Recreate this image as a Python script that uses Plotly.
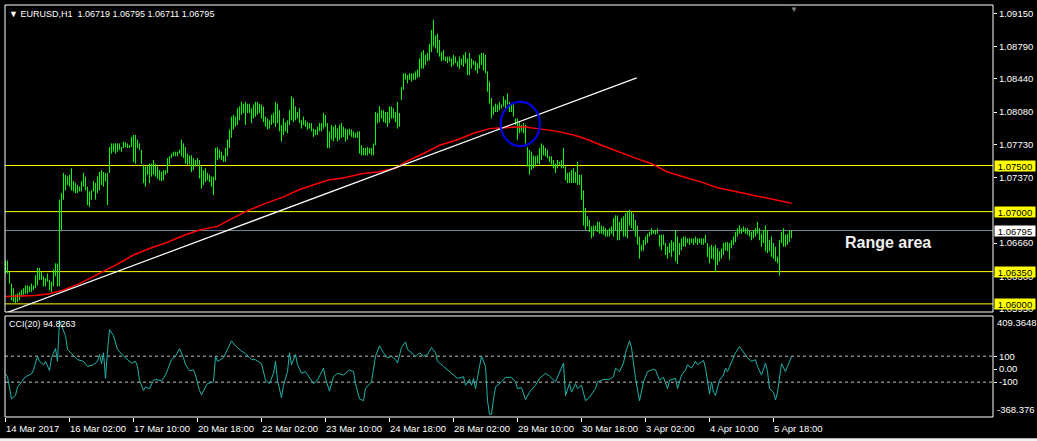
import plotly.graph_objects as go

# ---------------- data (EURUSD H1, one entry per bar) ----------------
bar_high = [
    1.0647, 1.0647, 1.0635, 1.0622, 1.0617, 1.0610, 1.0611, 1.0613, 1.0615, 1.0617,
    1.0620, 1.0620, 1.0619, 1.0622, 1.0620, 1.0631, 1.0639, 1.0639, 1.0635, 1.0630,
    1.0628, 1.0633, 1.0626, 1.0624, 1.0637, 1.0644, 1.0644, 1.0713, 1.0720, 1.0742,
    1.0740, 1.0738, 1.0740, 1.0747, 1.0733, 1.0731, 1.0729, 1.0727, 1.0733, 1.0742,
    1.0738, 1.0727, 1.0722, 1.0723, 1.0733, 1.0731, 1.0738, 1.0743, 1.0745, 1.0743,
    1.0742, 1.0742, 1.0770, 1.0774, 1.0774, 1.0774, 1.0774, 1.0774, 1.0770, 1.0776,
    1.0775, 1.0774, 1.0772, 1.0781, 1.0783, 1.0783, 1.0778, 1.0774, 1.0767, 1.0751,
    1.0749, 1.0749, 1.0752, 1.0752, 1.0756, 1.0752, 1.0749, 1.0745, 1.0743, 1.0745,
    1.0745, 1.0758, 1.0760, 1.0763, 1.0765, 1.0765, 1.0765, 1.0767, 1.0778, 1.0774,
    1.0770, 1.0763, 1.0761, 1.0761, 1.0758, 1.0756, 1.0758, 1.0756,
    1.0749, 1.0745, 1.0747, 1.0742, 1.0740, 1.0738, 1.0738, 1.0769, 1.0770, 1.0767,
    1.0765, 1.0761, 1.0769, 1.0778, 1.0789, 1.0803, 1.0805, 1.0803, 1.0812, 1.0814,
    1.0819, 1.0817, 1.0819, 1.0817, 1.0817, 1.0812, 1.0816, 1.0819, 1.0819, 1.0817,
    1.0816, 1.0814, 1.0803, 1.0801, 1.0799, 1.0805, 1.0807, 1.0819, 1.0817, 1.0810,
    1.0794, 1.0801, 1.0797, 1.0799, 1.0810, 1.0825, 1.0823, 1.0814, 1.0808, 1.0812,
    1.0799, 1.0803, 1.0799, 1.0797, 1.0796, 1.0796, 1.0790, 1.0789, 1.0792, 1.0796,
    1.0796, 1.0807, 1.0805, 1.0796, 1.0787, 1.0794, 1.0792, 1.0794, 1.0790, 1.0794,
    1.0796, 1.0792, 1.0790, 1.0789, 1.0790, 1.0789, 1.0787, 1.0785, 1.0787, 1.0787,
    1.0772, 1.0769, 1.0769, 1.0770, 1.0769, 1.0769, 1.0774, 1.0808, 1.0807, 1.0814,
    1.0810, 1.0810, 1.0808, 1.0808, 1.0814, 1.0814, 1.0812,
    1.0808, 1.0819, 1.0807, 1.0835, 1.0850, 1.0850, 1.0848, 1.0850, 1.0850, 1.0850,
    1.0852, 1.0854, 1.0866, 1.0873, 1.0875, 1.0870, 1.0872, 1.0882, 1.0897, 1.0908,
    1.0891, 1.0893, 1.0886, 1.0873, 1.0875, 1.0868, 1.0868, 1.0868, 1.0866, 1.0870,
    1.0868, 1.0863, 1.0868, 1.0866, 1.0870, 1.0873, 1.0866, 1.0872, 1.0866, 1.0864,
    1.0863, 1.0861, 1.0870, 1.0872, 1.0872, 1.0870, 1.0852, 1.0841, 1.0823, 1.0814,
    1.0817, 1.0816, 1.0819, 1.0816, 1.0825, 1.0821, 1.0828, 1.0819, 1.0817, 1.0816,
    1.0801, 1.0801, 1.0797, 1.0794, 1.0796, 1.0794, 1.0770, 1.0767, 1.0765, 1.0761,
    1.0760, 1.0761, 1.0769, 1.0774, 1.0772, 1.0769, 1.0767, 1.0760, 1.0760, 1.0756,
    1.0752, 1.0756, 1.0754, 1.0756, 1.0769, 1.0749, 1.0742, 1.0743, 1.0745, 1.0747,
    1.0743, 1.0754, 1.0740, 1.0740, 1.0723,
    1.0704, 1.0695, 1.0691, 1.0684, 1.0685, 1.0685, 1.0689, 1.0689, 1.0685, 1.0684,
    1.0682, 1.0680, 1.0682, 1.0684, 1.0693, 1.0696, 1.0696, 1.0689, 1.0693, 1.0695,
    1.0698, 1.0700, 1.0702, 1.0700, 1.0698, 1.0691, 1.0685, 1.0673, 1.0664, 1.0669,
    1.0673, 1.0676, 1.0678, 1.0682, 1.0680, 1.0680, 1.0682, 1.0675, 1.0675, 1.0675,
    1.0666, 1.0662, 1.0666, 1.0669, 1.0667, 1.0680, 1.0673, 1.0666, 1.0671, 1.0673,
    1.0673, 1.0671, 1.0671, 1.0671, 1.0671, 1.0673, 1.0671, 1.0671, 1.0671, 1.0671,
    1.0675, 1.0666, 1.0662, 1.0664, 1.0662, 1.0664, 1.0660, 1.0657, 1.0660, 1.0666,
    1.0667, 1.0667, 1.0666, 1.0669, 1.0673, 1.0678, 1.0682, 1.0685, 1.0682, 1.0684,
    1.0682, 1.0682, 1.0680, 1.0678, 1.0680, 1.0682, 1.0689, 1.0682, 1.0676, 1.0680,
    1.0685, 1.0680, 1.0669, 1.0673, 1.0666, 1.0662, 1.0651, 1.0669, 1.0678, 1.0682,
    1.0675, 1.0676, 1.0680, 1.06795,
]
bar_low = [
    1.0633, 1.0633, 1.0622, 1.0604, 1.0602, 1.0601, 1.0602, 1.0604, 1.0608, 1.0610,
    1.0611, 1.0611, 1.0613, 1.0613, 1.0615, 1.0617, 1.0620, 1.0626, 1.0626, 1.0619,
    1.0619, 1.0624, 1.0615, 1.0613, 1.0619, 1.0630, 1.0619, 1.0619, 1.0680, 1.0713,
    1.0723, 1.0729, 1.0727, 1.0723, 1.0722, 1.0720, 1.0720, 1.0722, 1.0722, 1.0727,
    1.0723, 1.0707, 1.0705, 1.0713, 1.0722, 1.0713, 1.0720, 1.0723, 1.0729, 1.0727,
    1.0733, 1.0707, 1.0742, 1.0763, 1.0765, 1.0763, 1.0765, 1.0767, 1.0765, 1.0769,
    1.0770, 1.0769, 1.0769, 1.0770, 1.0754, 1.0752, 1.0769, 1.0767, 1.0752, 1.0731,
    1.0727, 1.0740, 1.0731, 1.0738, 1.0740, 1.0738, 1.0736, 1.0734, 1.0733, 1.0734,
    1.0740, 1.0742, 1.0751, 1.0758, 1.0760, 1.0760, 1.0760, 1.0763, 1.0760, 1.0758,
    1.0752, 1.0751, 1.0751, 1.0743, 1.0745, 1.0749, 1.0751, 1.0736,
    1.0725, 1.0729, 1.0732, 1.0734, 1.0732, 1.0727, 1.0718, 1.0734, 1.0756, 1.0758,
    1.0756, 1.0754, 1.0754, 1.0760, 1.0769, 1.0780, 1.0789, 1.0792, 1.0794, 1.0799,
    1.0805, 1.0807, 1.0794, 1.0807, 1.0807, 1.0796, 1.0801, 1.0803, 1.0805, 1.0807,
    1.0801, 1.0797, 1.0792, 1.0789, 1.0790, 1.0794, 1.0796, 1.0792, 1.0796, 1.0787,
    1.0776, 1.0783, 1.0787, 1.0785, 1.0794, 1.0799, 1.0797, 1.0799, 1.0801, 1.0796,
    1.0790, 1.0794, 1.0792, 1.0789, 1.0790, 1.0787, 1.0781, 1.0783, 1.0783, 1.0787,
    1.0787, 1.0790, 1.0792, 1.0769, 1.0769, 1.0778, 1.0776, 1.0780, 1.0776, 1.0778,
    1.0780, 1.0781, 1.0776, 1.0778, 1.0783, 1.0781, 1.0780, 1.0780, 1.0780, 1.0763,
    1.0761, 1.0761, 1.0761, 1.0761, 1.0763, 1.0761, 1.0761, 1.0772, 1.0796, 1.0797,
    1.0801, 1.0797, 1.0796, 1.0792, 1.0796, 1.0801, 1.0801,
    1.0797, 1.0790, 1.0792, 1.0821, 1.0832, 1.0843, 1.0839, 1.0843, 1.0841, 1.0843,
    1.0843, 1.0845, 1.0846, 1.0855, 1.0855, 1.0859, 1.0863, 1.0864, 1.0873, 1.0879,
    1.0877, 1.0872, 1.0868, 1.0863, 1.0864, 1.0863, 1.0861, 1.0863, 1.0857, 1.0859,
    1.0861, 1.0857, 1.0855, 1.0859, 1.0857, 1.0861, 1.0848, 1.0848, 1.0855, 1.0859,
    1.0853, 1.0850, 1.0855, 1.0859, 1.0853, 1.0850, 1.0830, 1.0817, 1.0801, 1.0805,
    1.0808, 1.0808, 1.0810, 1.0812, 1.0814, 1.0812, 1.0816, 1.0808, 1.0808, 1.0803,
    1.0794, 1.0778, 1.0785, 1.0787, 1.0785, 1.0774, 1.0749, 1.0740, 1.0745, 1.0747,
    1.0749, 1.0752, 1.0751, 1.0756, 1.0761, 1.0760, 1.0758, 1.0754, 1.0751, 1.0747,
    1.0742, 1.0747, 1.0751, 1.0747, 1.0747, 1.0734, 1.0731, 1.0731, 1.0731, 1.0731,
    1.0731, 1.0729, 1.0729, 1.0713, 1.0685,
    1.0680, 1.0684, 1.0678, 1.0671, 1.0673, 1.0680, 1.0678, 1.0676, 1.0676, 1.0675,
    1.0673, 1.0673, 1.0673, 1.0676, 1.0673, 1.0680, 1.0669, 1.0669, 1.0680, 1.0673,
    1.0673, 1.0671, 1.0685, 1.0682, 1.0680, 1.0673, 1.0664, 1.0649, 1.0657, 1.0658,
    1.0664, 1.0666, 1.0673, 1.0675, 1.0676, 1.0675, 1.0676, 1.0662, 1.0658, 1.0664,
    1.0653, 1.0649, 1.0655, 1.0651, 1.0657, 1.0646, 1.0643, 1.0653, 1.0658, 1.0662,
    1.0662, 1.0666, 1.0664, 1.0666, 1.0664, 1.0666, 1.0664, 1.0666, 1.0664, 1.0664,
    1.0666, 1.0651, 1.0644, 1.0649, 1.0648, 1.0635, 1.0642, 1.0646, 1.0649, 1.0653,
    1.0658, 1.0657, 1.0648, 1.0660, 1.0664, 1.0667, 1.0673, 1.0676, 1.0676, 1.0678,
    1.0676, 1.0675, 1.0673, 1.0669, 1.0671, 1.0673, 1.0676, 1.0669, 1.0662, 1.0666,
    1.0657, 1.0655, 1.0657, 1.0651, 1.0649, 1.0646, 1.0644, 1.0631, 1.0666, 1.0662,
    1.0662, 1.0664, 1.0667, 1.06711,
]

# red moving average (bar index, price)
ma_bar = [0, 15, 22, 29, 37, 47, 55, 64, 72, 80, 90, 97, 106, 112, 120, 130, 139, 147,
          153, 161, 170, 178, 186, 195, 200, 209, 217, 226, 234, 242, 249, 259, 266,
          276, 284, 290, 298, 306, 315, 323, 331, 340, 348, 356, 365, 373, 381, 390, 393]
ma_val = [1.0608, 1.0609, 1.0611, 1.0615, 1.0622, 1.0633, 1.0642, 1.0653, 1.0660, 1.0666,
          1.0675, 1.0680, 1.0684, 1.0691, 1.0700, 1.0709, 1.0716, 1.0724, 1.0728, 1.0734,
          1.0737, 1.0741, 1.0743, 1.0747, 1.0754, 1.0763, 1.0772, 1.0778, 1.0785, 1.0790,
          1.0791, 1.0792, 1.0790, 1.0787, 1.0783, 1.0779, 1.0772, 1.0765, 1.0758, 1.0752,
          1.0743, 1.0737, 1.0732, 1.0726, 1.0722, 1.0718, 1.0715, 1.0711, 1.0709]

# CCI(20) (bar index, value)
cci_bar = [0, 1, 3, 5, 6, 8, 10, 13, 14, 16, 17, 19, 20, 22, 23, 25, 26, 27, 28, 30, 31, 34,
           36, 39, 41, 44, 46, 47, 48, 49, 50, 51, 52, 54, 56, 59, 61, 63, 65, 66, 67, 69,
           70, 72, 74, 75, 78, 80, 83, 85, 87, 89, 90, 92, 94, 95, 97, 98, 100, 101, 104,
           105, 106, 109, 113, 115, 118, 120, 123, 125, 128, 130, 132, 134, 135, 136, 138,
           139, 141, 142, 143, 145, 146, 148, 150, 154, 156, 159, 160, 162, 164, 166, 169,
           171, 172, 174, 175, 177, 179, 180, 183, 185, 187, 189, 191, 193, 195, 196, 198,
           200, 201, 204, 205, 207, 209, 211, 213, 215, 216, 219, 221, 224, 226, 229, 230,
           232, 233, 234, 235, 237, 238, 240, 241, 242, 243, 244, 245, 248, 250, 253, 255,
           256, 258, 260, 262, 265, 267, 270, 272, 275, 277, 279, 280, 282, 283, 285, 286,
           288, 290, 292, 295, 296, 299, 302, 304, 305, 307, 309, 310, 312, 313, 315, 317,
           319, 321, 324, 325, 327, 329, 331, 332, 335, 336, 338, 340, 341, 343, 345, 346,
           349, 350, 352, 353, 354, 355, 356, 357, 359, 360, 361, 363, 365, 367, 369, 371,
           373, 375, 376, 378, 380, 381, 382, 384, 385, 386, 388, 390, 391, 393]
cci_val = [-37, -58, -229, -203, -137, -98, -58, -37, -6, 100, 60, 34, 60, -11, 87, 158, 60,
           376, 336, 258, 152, 100, 73, 60, 21, 34, 60, 113, 42, 126, -71, 139, 305, 258,
           152, 100, 73, 47, 60, 21, -85, -164, -137, -150, -85, -79, -90, -45, 73, 100,
           158, 87, 34, -11, -6, -45, -164, -198, -137, -111, -98, 100, 60, 87, 218, 179,
           139, 121, 73, 73, 42, -85, -111, -32, 60, -85, -221, -124, -19, 126, 34, 113,
           34, -32, -19, -111, -85, 8, -71, -169, -58, -32, -45, -19, -6, -19, -111, -229,
           -243, -150, -98, 100, 179, 126, 87, 100, 73, 47, 166, 210, 152, 113, 95, 126,
           100, 113, 166, 126, 60, 21, -6, -45, -71, -58, -124, -79, -124, -71, -150, 21,
           100, 21, -243, -348, -348, -229, -137, -98, -63, -63, -98, -150, -142, -235,
           -177, -124, -71, -32, -53, -98, -32, 47, -203, -111, -177, -111, -150, -124,
           -243, -216, -150, -98, -79, -79, -58, 8, -19, 47, 126, 218, 166, -71, -243, -98,
           -19, 0, -6, -85, -63, -150, -85, -71, -150, -45, -6, 34, 8, 60, 34, 68, 8, -190,
           -98, -177, -203, -150, -85, -45, 8, -19, 60, 126, 174, 126, 87, 60, 73, 21, -45,
           47, -19, -150, -177, -237, -177, 42, -19, 21, 94.8263]

# hand-drawn objects
trend_bar = [0, 315.6]
trend_price = [1.0590, 1.0845]
circle_bar = [247.6, 267.2]
circle_price = [1.0771, 1.0819]
level_prices = [1.0750, 1.0700, 1.0635, 1.0600]
level_labels = ["1.07500", "1.07000", "1.06350", "1.06000"]
bid_price = 1.06795
bid_label = "1.06795"

price_ticks = [1.0915, 1.0879, 1.0844, 1.0808, 1.0773, 1.0737, 1.0666, 1.0630, 1.0595]
price_tick_text = ["1.09150", "1.08790", "1.08440", "1.08080", "1.07730", "1.07370",
                   "1.06660", "1.06300", "1.05950"]
time_ticks = [0, 32, 64, 96, 128, 160, 192, 224, 256, 288, 320, 352, 384]
time_labels = ["14 Mar 2017", "16 Mar 02:00", "17 Mar 10:00", "20 Mar 18:00", "22 Mar 02:00",
               "23 Mar 10:00", "24 Mar 18:00", "28 Mar 02:00", "29 Mar 10:00", "30 Mar 18:00",
               "3 Apr 02:00", "4 Apr 10:00", "5 Apr 18:00"]
cci_ticks = [100, 0, -100]
cci_tick_text = ["100", "0.00", "-100"]
cci_max, cci_min = 409.3648, -368.376

FONT = "Liberation Sans"
FG = "#FFFFFF"

# ---------------- figure ----------------
bx, by = [], []
for i, (h, l) in enumerate(zip(bar_high, bar_low)):
    bx += [i, i, None]
    by += [l, h, None]

fig = go.Figure()
fig.add_trace(go.Scatter(x=bx, y=by, mode="lines", line=dict(color="#00FF00", width=1),
                         xaxis="x", yaxis="y", hoverinfo="skip", showlegend=False))
fig.add_trace(go.Scatter(x=ma_bar, y=ma_val, mode="lines", line=dict(color="#FF0000", width=1.5),
                         xaxis="x", yaxis="y", showlegend=False))
fig.add_trace(go.Scatter(x=trend_bar, y=trend_price, mode="lines",
                         line=dict(color="#FFFFFF", width=1.2),
                         xaxis="x", yaxis="y", showlegend=False))
fig.add_trace(go.Scatter(x=cci_bar, y=cci_val, mode="lines", line=dict(color="#20B2AA", width=1),
                         xaxis="x", yaxis="y2", showlegend=False))

shapes = []
for p in level_prices:
    shapes.append(dict(type="line", xref="x domain", yref="y", x0=0, x1=1, y0=p, y1=p,
                       line=dict(color="#FFFF00", width=1), layer="below"))
shapes.append(dict(type="line", xref="x domain", yref="y", x0=0, x1=1, y0=bid_price, y1=bid_price,
                   line=dict(color="#778899", width=1), layer="below"))
for v in (100, -100):
    shapes.append(dict(type="line", xref="x domain", yref="y2", x0=0, x1=1, y0=v, y1=v,
                       line=dict(color="#C0C0C0", width=1, dash="3px,3px"), layer="below"))
shapes.append(dict(type="circle", xref="x", yref="y", x0=circle_bar[0], x1=circle_bar[1],
                   y0=circle_price[0], y1=circle_price[1], line=dict(color="#0000FF", width=2)))
for ya in ("y", "y2"):
    shapes.append(dict(type="rect", xref="x domain", yref=ya + " domain", x0=0, x1=1, y0=0, y1=1,
                       line=dict(color="#FFFFFF", width=1)))
# light window edge at the bottom of the screenshot
shapes.append(dict(type="rect", xref="paper", yref="paper", x0=-0.01, x1=1.05, y0=-0.06, y1=-0.0515,
                   line=dict(width=0), fillcolor="#F0F0F0"))

small = dict(family=FONT, size=9.5, color=FG)
ann = []
for p, t in zip(level_prices, level_labels):
    ann.append(dict(xref="paper", yref="y", x=1, y=p, xanchor="left", yanchor="middle", xshift=1,
                    text=t, showarrow=False, bgcolor="#FFFF00", width=40, height=10,
                    borderpad=0, font=dict(family=FONT, size=9.5, color="#000000")))
ann.append(dict(xref="paper", yref="y", x=1, y=bid_price, xanchor="left", yanchor="middle", xshift=1,
                text=bid_label, showarrow=False, bgcolor="#FFFFFF", width=40, height=10,
                borderpad=0, font=dict(family=FONT, size=9.5, color="#000000")))
ann.append(dict(xref="paper", yref="y2 domain", x=1, y=1, xanchor="left", yanchor="top", xshift=2,
                yshift=1, text=f"{cci_max:.4f}", showarrow=False, font=small))
ann.append(dict(xref="paper", yref="y2 domain", x=1, y=0, xanchor="left", yanchor="bottom", xshift=2,
                text=f"{cci_min:.3f}", showarrow=False, font=small))
ann.append(dict(xref="x domain", yref="y domain", x=0, y=1, xanchor="left", yanchor="top",
                xshift=2, yshift=-2,
                text="▼ EURUSD,H1  1.06719 1.06795 1.06711 1.06795", showarrow=False,
                font=dict(family=FONT, size=9, color=FG)))
ann.append(dict(xref="x domain", yref="y2 domain", x=0, y=1, xanchor="left", yanchor="top",
                xshift=2, yshift=-1, text="CCI(20) 94.8263", showarrow=False,
                font=dict(family=FONT, size=9, color=FG)))
ann.append(dict(xref="x", yref="y", x=418.5, y=1.0667, xanchor="left", yanchor="middle",
                text="<b>Range area</b>", showarrow=False,
                font=dict(family=FONT, size=16, color="#F0F0F0")))
ann.append(dict(xref="x", yref="y domain", x=394, y=1, xanchor="center", yanchor="top",
                yshift=2, text="▼", showarrow=False,
                font=dict(family=FONT, size=8, color="#808080")))

fig.update_layout(
    width=1037, height=441,
    margin=dict(l=5, r=44, t=5, b=24, autoexpand=False),
    paper_bgcolor="#000000", plot_bgcolor="#000000",
    showlegend=False,
    shapes=shapes, annotations=ann,
    xaxis=dict(domain=[0, 1], range=[-0.25, 493.75], anchor="y2", showgrid=False, zeroline=False,
               showline=False, ticks="outside", ticklen=4, tickcolor=FG, tickwidth=1,
               tickvals=time_ticks, ticktext=time_labels, ticklabelposition="outside right",
               ticklabelstandoff=3, tickangle=0, tickfont=small, automargin=False,
               fixedrange=True),
    yaxis=dict(domain=[0.25485, 1], range=[1.059121, 1.092400], side="right", anchor="x",
               showgrid=False, zeroline=False, showline=False, ticks="outside", ticklen=3,
               tickcolor=FG, tickvals=price_ticks, ticktext=price_tick_text, tickfont=small,
               automargin=False),
    yaxis2=dict(domain=[0, 0.24515], range=[cci_min, cci_max], side="right", anchor="x",
                showgrid=False, zeroline=False, showline=False, ticks="outside", ticklen=3,
                tickcolor=FG, tickvals=cci_ticks, ticktext=cci_tick_text, tickfont=small,
                automargin=False),
)

fig.write_html("out.html", config={"displayModeBar": False},
               post_script="document.body.style.margin='0';document.body.style.background='#000';")
